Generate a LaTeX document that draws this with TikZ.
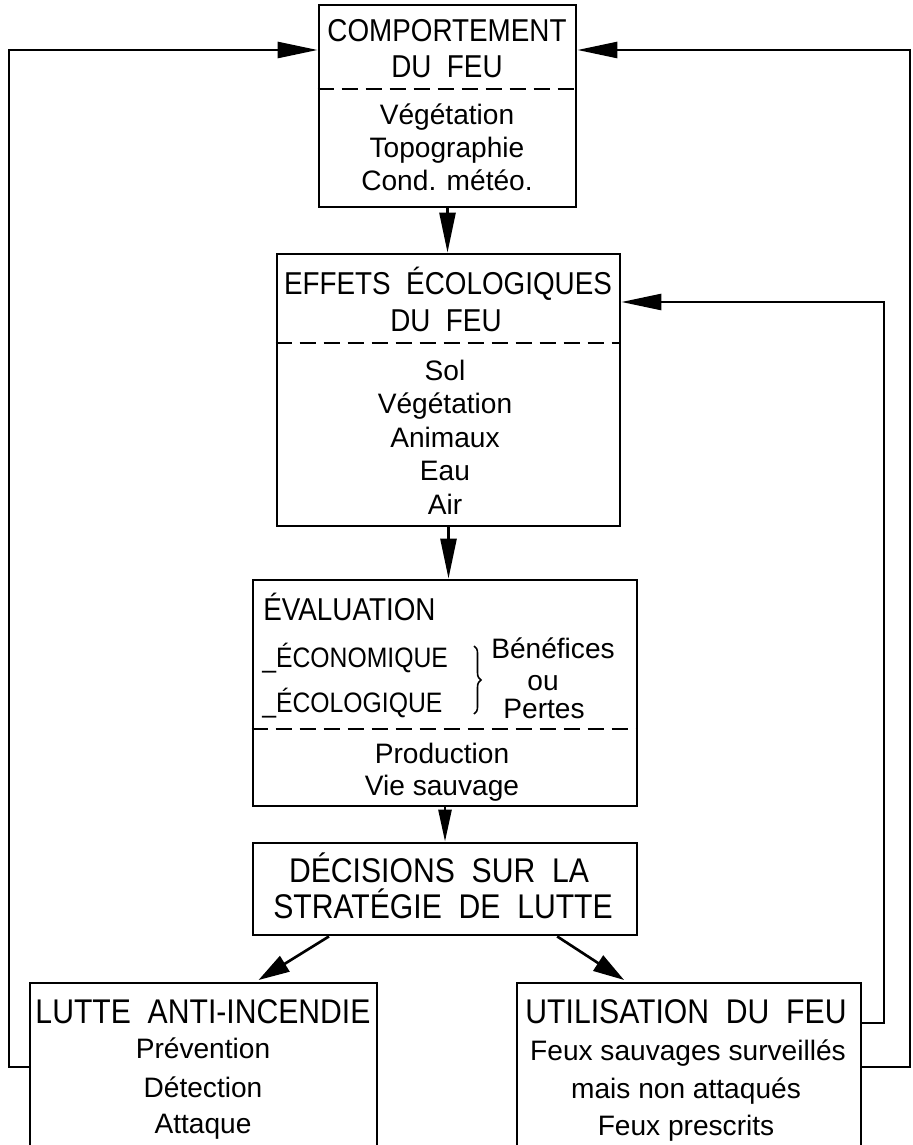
\documentclass[tikz,border=0pt]{standalone}
\usepackage{fontspec}
\setmainfont{Liberation Sans}
\newfontfamily\capfont{Liberation Sans}[FakeStretch=0.88,WordSpace=2]
\usetikzlibrary{arrows.meta,calc,decorations.pathreplacing}

\tikzset{
  box/.style={draw,line width=1.6pt,inner sep=0pt},
  head/.style={font=\capfont\fontsize{18}{21}\selectfont,anchor=base,inner sep=0pt},
  bighead/.style={font=\capfont\fontsize{19.5}{23}\selectfont,anchor=base,inner sep=0pt},
  subhead/.style={font=\capfont\fontsize{16}{19}\selectfont,anchor=base west,inner sep=0pt},
  body/.style={font=\fontsize{16}{19}\selectfont,anchor=base,inner sep=0pt},
  sep/.style={line width=1.6pt,dash pattern=on 0.32cm off 0.16cm},
  link/.style={line width=1.5pt,-{Triangle[length=0.8cm,width=0.32cm]}},
  shortlink/.style={line width=1.5pt,-{Triangle[length=0.64cm,width=0.26cm]}},
  diaglink/.style={line width=1.5pt,-{Triangle[length=0.62cm,width=0.36cm]},shorten >=0.06cm},
}

\begin{document}
\begin{tikzpicture}[x=0.02cm,y=-0.02cm]
\useasboundingbox (0,0) rectangle (912,1145);
\clip (0,0) rectangle (912,1145);

% boxes
\node[box,minimum width=5.14cm,minimum height=4.04cm] (comp) at (447.5,106) {};
\node[box,minimum width=6.86cm,minimum height=5.44cm] (effets) at (448.5,390) {};
\node[box,minimum width=7.68cm,minimum height=4.52cm] (eval) at (445,693) {};
\node[box,minimum width=7.68cm,minimum height=1.84cm] (decis) at (445,889) {};
\node[box,minimum width=6.94cm,minimum height=3.94cm] (lutte) at (203.5,1081.5) {};
\node[box,minimum width=6.88cm,minimum height=3.94cm] (util) at (689,1081.5) {};

% dashed separators
\draw[sep] (comp.west |- 0,89) -- (comp.east |- 0,89);
\draw[sep] (effets.west |- 0,343) -- (effets.east |- 0,343);
\draw[sep] (eval.west |- 0,729) -- (eval.east |- 0,729);

% texts
\node[head] (compA) at (447,42) {COMPORTEMENT};
\node[head] (compB) at (447,78) {DU FEU};
\node[body] (compC) at (447,125) {Végétation};
\node[body] (compD) at (447,158) {Topographie};
\node[body] (compE) at (447,191) {Cond. météo.};

\node[head] (effA) at (448,295) {EFFETS ÉCOLOGIQUES};
\node[head] (effB) at (446,332) {DU FEU};
\node[body] (effC) at (445,380) {Sol};
\node[body] (effD) at (445,413) {Végétation};
\node[body] (effE) at (445,447) {Animaux};
\node[body] (effF) at (445,480) {Eau};
\node[body] (effG) at (445,514) {Air};

\node[head,anchor=base west] (evA) at (263,620) {ÉVALUATION};
\node[subhead] (evB) at (262,667) {\_ÉCONOMIQUE};
\node[subhead] (evC) at (262,712) {\_ÉCOLOGIQUE};
\draw[line width=0.9pt,decorate,decoration={brace,amplitude=4pt}] (474,646) -- (474,714);
\node[body] (evD) at (553,658) {Bénéfices};
\node[body] (evE) at (543,690) {ou};
\node[body] (evF) at (544,718) {Pertes};
\node[body] (evG) at (442,763) {Production};
\node[body] (evH) at (442,795) {Vie sauvage};

\node[bighead] (decA) at (439,882) {DÉCISIONS SUR LA};
\node[bighead] (decB) at (443,918) {STRATÉGIE DE LUTTE};

\node[bighead] (lutA) at (203,1023) {LUTTE ANTI-INCENDIE};
\node[body] (lutB) at (203,1058) {Prévention};
\node[body] (lutC) at (203,1097) {Détection};
\node[body] (lutD) at (203,1133) {Attaque};

\node[bighead] (utA) at (686,1023) {UTILISATION DU FEU};
\node[body] (utB) at (688,1060) {Feux sauvages surveillés};
\node[body] (utC) at (686,1098) {mais non attaqués};
\node[body] (utD) at (686,1135) {Feux prescrits};

% main chain
\draw[link] (comp.south) -- (comp.south |- effets.north);
\draw[link] (effets.south) -- (effets.south |- eval.north);
\draw[shortlink] (eval.south) -- (eval.south |- decis.north);
\draw[diaglink] ($(decis.south west)!0.2!(decis.south east)$) -- ($(lutte.north west)!0.65!(lutte.north east)$);
\draw[diaglink] ($(decis.south west)!0.79!(decis.south east)$) -- ($(util.north west)!0.32!(util.north east)$);

% feedback loops
\coordinate (topL) at (9,50);
\coordinate (topR) at (910,50);
\coordinate (midR) at (884,302);
\draw[link] (lutte.west |- 0,1067) -| (topL) -- (comp.west |- topL);
\draw[link] (util.east |- 0,1067) -| (topR) -- (comp.east |- topR);
\draw[link] (util.east |- 0,1023) -| (midR) -- (effets.east |- midR);
\end{tikzpicture}
\end{document}
